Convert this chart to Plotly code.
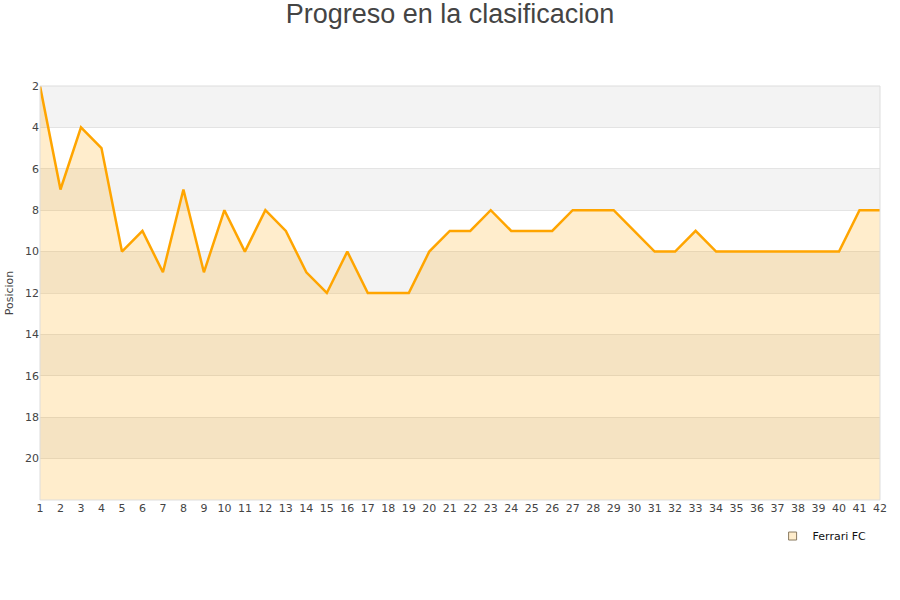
import plotly.graph_objects as go

jornadas = list(range(1, 43))
posiciones = [2, 7, 4, 5, 10, 9, 11, 7, 11, 8, 10, 8, 9, 11, 12, 10, 12, 12, 12, 10,
              9, 9, 8, 9, 9, 9, 8, 8, 8, 9, 10, 10, 9, 10, 10, 10, 10, 10, 10, 10, 8, 8]
y_ticks = [2, 4, 6, 8, 10, 12, 14, 16, 18, 20]
y_min, y_max = 2, 22
team = "Ferrari FC"

fig = go.Figure()
fig.add_trace(go.Scatter(x=jornadas, y=[y_max] * len(jornadas), mode="lines",
                         line=dict(width=0), showlegend=False, hoverinfo="skip"))
fig.add_trace(go.Scatter(x=jornadas, y=posiciones, mode="lines", name=team, showlegend=False,
                         line=dict(color="#ffa500", width=2.5),
                         fill="tonexty", fillcolor="rgba(255,165,0,0.2)"))
fig.add_trace(go.Scatter(x=[None], y=[None], mode="markers", name=team,
                         marker=dict(symbol="square", size=8, color="#ffedcc",
                                     line=dict(color="#8a7a60", width=1))))

shapes = []
for k in range(y_min, y_max, 4):
    shapes.append(dict(type="rect", xref="paper", yref="y", x0=0, x1=1, y0=k, y1=k + 2,
                       fillcolor="#f3f3f3", line=dict(width=0), layer="below"))
shapes.append(dict(type="rect", xref="paper", yref="paper", x0=0, x1=1, y0=0, y1=1,
                   line=dict(color="#dddddd", width=1), fillcolor="rgba(0,0,0,0)"))

fig.update_layout(
    width=900, height=600,
    paper_bgcolor="white", plot_bgcolor="white",
    margin=dict(l=40, r=20, t=86, b=100, autoexpand=False),
    title=dict(text="Progreso en la clasificacion", x=0.5, xanchor="center", y=0.9767, yanchor="middle",
               font=dict(family="Liberation Sans", size=27, color="#444444")),
    font=dict(family="DejaVu Sans", size=11, color="#444444"),
    shapes=shapes,
    xaxis=dict(range=[1, 42], tickmode="array", tickvals=jornadas, showgrid=False, automargin=False,
               zeroline=False, showline=False, ticks="", tickfont=dict(size=11)),
    yaxis=dict(range=[y_max, y_min], tickmode="array", tickvals=y_ticks, showgrid=True, automargin=False,
               gridcolor="rgba(200,200,200,0.45)", zeroline=False, showline=False, ticks="",
               title=dict(text="Posicion", font=dict(size=11), standoff=9),
               tickfont=dict(size=11)),
    legend=dict(x=0.99, xanchor="right", y=-0.087, yanchor="middle",
                font=dict(size=11, color="#111111"), bgcolor="rgba(0,0,0,0)"),
    showlegend=True,
)

fig.write_html("out.html", config={"displayModeBar": False})
with open("out.html", "r", encoding="utf-8") as f:
    html = f.read()
html = html.replace("<body>", '<body style="margin:0;overflow:hidden">', 1)
with open("out.html", "w", encoding="utf-8") as f:
    f.write(html)
